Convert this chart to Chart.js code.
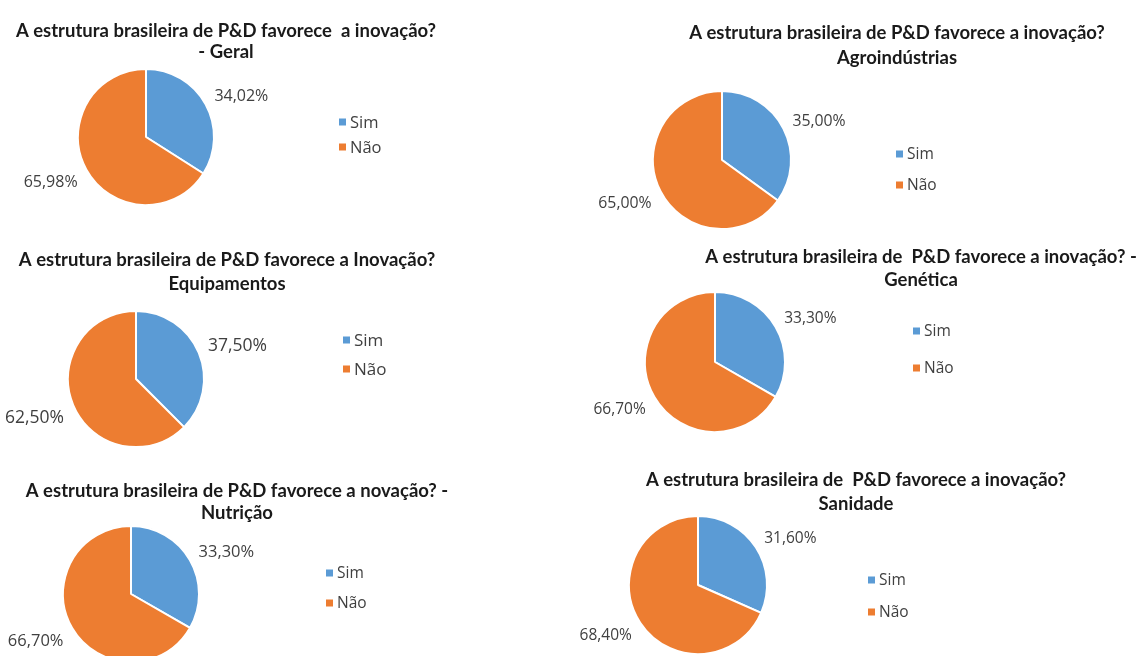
<!DOCTYPE html>
<html>
<head>
<meta charset="utf-8">
<script src="https://cdn.jsdelivr.net/npm/chart.js@4.4.0/dist/chart.umd.min.js"></script>
<style>
  html, body { margin: 0; padding: 0; background: #fff; }
  body { width: 1140px; height: 656px; position: relative; overflow: hidden; }
  canvas { position: absolute; }
</style>
</head>
<body>
<script>
const categories = ['Sim', 'Não'];

const chartTitles = [
  ['A estrutura brasileira de P&D favorece  a inovação?', '- Geral'],
  ['A estrutura brasileira de P&D favorece a inovação?', 'Agroindústrias'],
  ['A estrutura brasileira de P&D favorece a Inovação?', 'Equipamentos'],
  ['A estrutura brasileira de  P&D favorece a inovação? -', 'Genética'],
  ['A estrutura brasileira de P&D favorece a novação? -', 'Nutrição'],
  ['A estrutura brasileira de  P&D favorece a inovação?', 'Sanidade']
];

const simValues = [34.02, 35.00, 37.50, 33.30, 33.30, 31.60];
const naoValues = [65.98, 65.00, 62.50, 66.70, 66.70, 68.40];

const colors = ['#5B9BD5', '#ED7D31'];

// where each chart sits on the page (pixels)
// title: [centerX, line1Y, lineGap, fontSize], pie: [cx, cy, r], legend: [markerX, y, gap, fontSize]
const layouts = [
  { box: [0, 0, 570, 235],     title: [226, 31, 21, 18.5], pie: [146, 137, 68], legend: [339, 122, 25, 16.5], label: 16 },
  { box: [570, 0, 570, 235],   title: [897, 33, 25, 18.5], pie: [722, 160, 69], legend: [896, 154, 31, 15.5], label: 15.8 },
  { box: [0, 235, 570, 227],   title: [227, 260, 24, 18.5], pie: [136, 379, 68], legend: [343, 340, 29, 17], label: 17.5 },
  { box: [570, 235, 570, 227], title: [921, 257, 23, 18.5], pie: [715, 362, 70], legend: [913, 331, 37, 15.5], label: 15.5 },
  { box: [0, 462, 570, 220],   title: [237, 491, 22, 18.5], pie: [131, 594, 68], legend: [326, 573, 30, 15.5], label: 16.5 },
  { box: [570, 462, 570, 220], title: [856, 480, 24, 18.5], pie: [698, 585, 69], legend: [868, 580, 32, 15.5], label: 15.5 }
];

// draws title, legend and value labels
const textPlugin = {
  id: 'pieText',
  afterDraw(chart, args, opts) {
    const ctx = chart.ctx;
    const lay = opts.layout;
    const ox = lay.box[0], oy = lay.box[1];
    ctx.save();

    // title
    ctx.fillStyle = '#1a1a1a';
    ctx.font = 'bold ' + lay.title[3] + 'px Lato, "Open Sans", sans-serif';
    ctx.textAlign = 'center';
    ctx.textBaseline = 'middle';
    opts.title.forEach((line, i) => {
      ctx.fillText(line, lay.title[0] - ox, lay.title[1] - oy + i * lay.title[2]);
    });

    // legend
    ctx.font = lay.legend[3] + 'px "Open Sans", Lato, sans-serif';
    ctx.textAlign = 'left';
    chart.data.labels.forEach((lbl, i) => {
      const x = lay.legend[0] - ox;
      const y = lay.legend[1] - oy + i * lay.legend[2];
      ctx.fillStyle = chart.data.datasets[0].backgroundColor[i];
      ctx.fillRect(x, y - 3.5, 7, 7);
      ctx.fillStyle = '#404040';
      ctx.fillText(lbl, x + 11, y + 1);
    });

    // value labels outside the slices
    ctx.font = lay.label + 'px "Open Sans", Lato, sans-serif';
    ctx.fillStyle = '#404040';
    const meta = chart.getDatasetMeta(0);
    meta.data.forEach((arc, i) => {
      const p = arc.getProps(['x', 'y', 'startAngle', 'endAngle', 'outerRadius'], true);
      const mid = (p.startAngle + p.endAngle) / 2;
      const d = p.outerRadius + 10;
      let x = p.x + Math.cos(mid) * d;
      let y = p.y + Math.sin(mid) * d;
      ctx.textAlign = Math.cos(mid) >= 0 ? 'left' : 'right';
      if (Math.sin(mid) < 0) {
        ctx.textBaseline = 'middle';
        y -= 3;
      } else {
        ctx.textBaseline = 'top';
      }
      const v = chart.data.datasets[0].data[i];
      ctx.fillText(v.toFixed(2).replace('.', ',') + '%', x, y);
    });

    ctx.restore();
  }
};

layouts.forEach((lay, k) => {
  const canvas = document.createElement('canvas');
  const [bx, by, bw, bh] = lay.box;
  canvas.width = bw;
  canvas.height = bh;
  canvas.style.left = bx + 'px';
  canvas.style.top = by + 'px';
  canvas.style.width = bw + 'px';
  canvas.style.height = bh + 'px';
  document.body.appendChild(canvas);

  const [cx, cy, r] = lay.pie;
  const padLeft = cx - r - 1 - bx;
  const padTop = cy - r - 1 - by;
  const side = 2 * r + 2;

  new Chart(canvas, {
    type: 'pie',
    data: {
      labels: categories,
      datasets: [{
        data: [simValues[k], naoValues[k]],
        backgroundColor: colors,
        borderColor: '#ffffff',
        borderWidth: 2,
        hoverOffset: 0
      }]
    },
    options: {
      responsive: false,
      animation: false,
      events: [],
      layout: {
        padding: {
          left: padLeft,
          top: padTop,
          right: bw - padLeft - side,
          bottom: bh - padTop - side
        }
      },
      plugins: {
        legend: { display: false },
        title: { display: false },
        tooltip: { enabled: false },
        pieText: { layout: lay, title: chartTitles[k] }
      }
    },
    plugins: [textPlugin]
  });
});
</script>
</body>
</html>
